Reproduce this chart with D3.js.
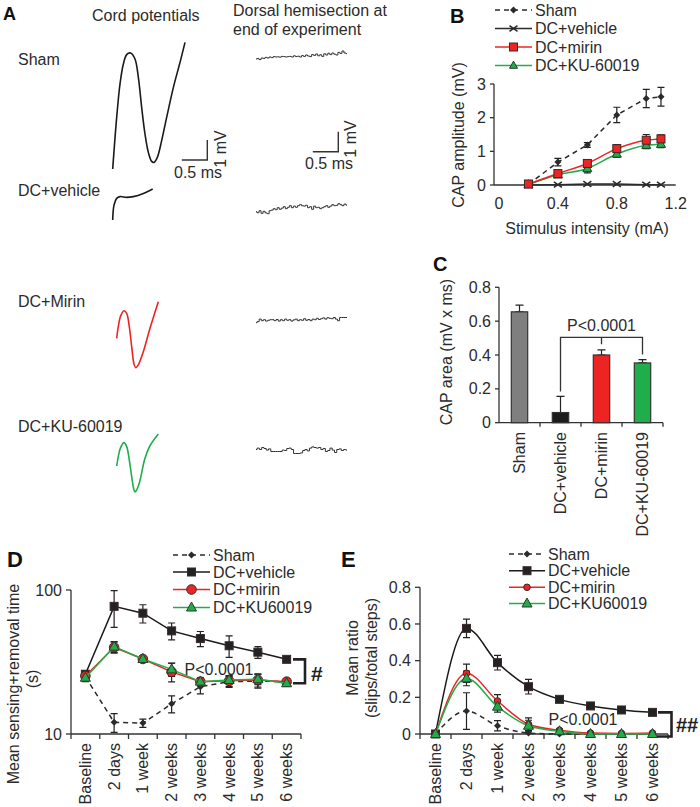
<!DOCTYPE html>
<html><head><meta charset="utf-8">
<script src="https://cdn.jsdelivr.net/npm/d3@7"></script>
<style>
html,body{margin:0;padding:0;background:#fff;}
svg text{font-family:"Liberation Sans",Arial,sans-serif;fill:#2b2b2b;}
</style></head>
<body><svg id="c" width="700" height="807"></svg>
<script>
// ---------------- DATA ----------------
// Panel A traces (time ms, voltage mV)
const shamTraceT = [0,0.078,0.143,0.209,0.274,0.353,0.437,0.503,0.568,0.633,0.699,0.764,0.81,0.875,0.96,1.058,1.19,1.32,1.418];
const shamTraceV = [0,2.58,4.25,5.25,5.72,5.8,5.5,4.58,3.08,1.75,0.83,0.38,0.33,0.58,1.42,2.58,4.08,5.33,6.33];
const vehTraceT = [0,0.026,0.078,0.143,0.274,0.405,0.601,0.784];
const vehTraceV = [0,0.75,1.08,1.17,1.13,1.17,1.33,1.55];
const mirTraceT = [0,0.031,0.078,0.143,0.196,0.247,0.294,0.339,0.373,0.424,0.522,0.653,0.816];
const mirTraceV = [0,0.58,1.12,1.38,1.25,0.58,-0.42,-1.29,-1.47,-1.33,-0.67,0.5,1.83];
const kuTraceT = [0,0.031,0.078,0.143,0.196,0.247,0.294,0.339,0.36,0.4,0.45,0.55,0.65,0.816];
const kuTraceV = [0,0.47,0.93,1.17,0.97,0.3,-0.53,-1.2,-1.3,-1.15,-0.8,0.35,1.0,1.6];
// Panel A dorsal hemisection noise traces (mV)
const shamNoise = [0,0.02,-0.03,0.05,0.03,0.08,0.05,0.1,0.07,0.12,0.1,0.11,0.09,0.13,0.12,0.1,0.12,0.13,0.1,0.16,0.12,0.14,0.1,0.17,0.13,0.2,0.15,0.12,0.22,0.18,0.25,0.16,0.21,0.13,0.26,0.2,0.29,0.22,0.3,0.24,0.2,0.33,0.28,0.4,0.3,0.27];
const vehNoise = [0,-0.05,0.05,-0.08,0.02,-0.06,-0.1,0.05,0.08,0.15,0.1,0.2,0.12,0.18,0.25,0.15,0.22,0.3,0.2,0.28,0.22,0.3,0.35,0.3,0.28,0.32,0.2,0.25,0.12,0.28,0.2,0.22,0.15,0.2,0.25,0.3,0.22,0.28,0.35,0.3,0.32,0.4,0.35,0.3,0.38,0.33];
const mirNoise = [0,0.05,0.18,0.1,0.15,0.08,0.12,0.15,0.15,0.1,0.16,0.08,0.15,0.1,0.18,0.12,0.15,0.08,0.14,0.18,0.1,0.15,0.12,0.2,0.12,0.16,0.1,0.18,0.15,0.22,0.16,0.2,0.24,0.18,0.25,0.22,0.2,0.26,0.18,0.1,0.26,0.26,0.26,0.26];
const kuNoise = [0.05,0.12,0.05,0.15,0.1,0.02,0.08,-0.05,-0.05,-0.05,-0.05,-0.05,0.02,0.0,0.1,0.12,0.05,-0.15,-0.15,-0.15,-0.12,0.0,0.05,-0.02,0.12,0.18,0.15,0.12,0.15,0.05,0.1,-0.05,0.0,0.12,0.02,-0.1,0.05,0.08,0.0,0.05,0.02];

// Panel B
const bIntensity = [0.2,0.4,0.6,0.8,1.0,1.1];
const bSham = [0.02,0.68,1.19,2.08,2.57,2.62];
const bShamErr = [0.02,0.11,0.07,0.23,0.27,0.28];
const bVeh = [0,0.01,0.03,0.03,0.01,0.01];
const bVehErr = [0,0,0,0,0,0];
const bMirin = [0.03,0.34,0.64,1.08,1.33,1.37];
const bMirinErr = [0.02,0.08,0.1,0.12,0.17,0.12];
const bKu = [0.01,0.3,0.49,0.92,1.18,1.21];
const bKuErr = [0.01,0.06,0.13,0.1,0.1,0.1];
const bXTicks = [0,0.4,0.8,1.2];
const bYTicks = [0,1,2,3];

// Panel C
const cGroups = ["Sham","DC+vehicle","DC+mirin","DC+KU-60019"];
const cArea = [0.655,0.06,0.40,0.353];
const cAreaErr = [0.04,0.095,0.03,0.02];
const cYTicks = [0,0.2,0.4,0.6,0.8];

// Panels D and E
const timepoints = ["Baseline","2 days","1 week","2 weeks","3 weeks","4 weeks","5 weeks","6 weeks"];
const dSham = [25,12.05,11.9,16.2,21.3,23.1,23.3,23.1];
const dShamErr = [1,1.8,0.8,2.2,2.3,2,2.5,1];
const dVeh = [26,77,69,52,46,41,37,33];
const dVehErr = [1.5,22,10,7,5.5,7,3.5,1];
const dMirin = [25.3,40,33.2,27,23.1,23.4,23.7,23.1];
const dMirinErr = [1.5,3.5,1,4,1.5,2,2.5,1];
const dKu = [24.6,40.4,33.2,28.1,23.1,23.7,24,22.5];
const dKuErr = [1.5,3.5,1,3,1,1.5,2,1];
const dYTicks = [10,100];

const eSham = [0,0.125,0.045,0.005,0,0,0,0];
const eShamErr = [0,0.1,0.028,0,0,0,0,0];
const eVeh = [0,0.576,0.389,0.258,0.189,0.153,0.131,0.118];
const eVehErr = [0.005,0.05,0.04,0.04,0.012,0.015,0.008,0.015];
const eMirin = [0,0.331,0.18,0.053,0.02,0.005,0.003,0.005];
const eMirinErr = [0,0.05,0.035,0.035,0.008,0.005,0,0];
const eKu = [0,0.303,0.149,0.045,0.015,0,0,0];
const eKuErr = [0,0.04,0.03,0.03,0.005,0,0,0];
const eYTicks = [0,0.2,0.4,0.6,0.8];

// ---------------- STYLE ----------------
const RED = "#ec2424", GREEN = "#1fae4a", DARK = "#2b2b2b", AX = "#333";
const FS = "16px";
const svg = d3.select("#c");

function txt(g, x, y, s, opts={}) {
  const t = g.append("text").attr("x", x).attr("y", y).text(s)
    .style("font-size", opts.size || FS);
  if (opts.anchor) t.attr("text-anchor", opts.anchor);
  if (opts.weight) t.style("font-weight", opts.weight);
  if (opts.fill) t.style("fill", opts.fill);
  return t;
}
function rotTxt(g, x, y, s, anchor, size) {
  return g.append("text").attr("transform", `translate(${x},${y}) rotate(-90)`)
    .attr("text-anchor", anchor).attr("dy", "0.35em").style("font-size", size || FS).text(s);
}
function marker(g, type, x, y, fill, size) {
  const s = size;
  if (type === "diamond") {
    g.append("path").attr("d", `M${x},${y-s}L${x+s},${y}L${x},${y+s}L${x-s},${y}Z`).attr("fill", DARK);
  } else if (type === "x") {
    g.append("path").attr("d", `M${x-s},${y-s*0.7}L${x+s},${y+s*0.7}M${x-s},${y+s*0.7}L${x+s},${y-s*0.7}`)
      .attr("stroke", DARK).attr("stroke-width", 1.6).attr("fill", "none");
  } else if (type === "square") {
    g.append("rect").attr("x", x-s).attr("y", y-s).attr("width", 2*s).attr("height", 2*s)
      .attr("fill", fill).attr("stroke", "#3a2a2a").attr("stroke-width", 1);
  } else if (type === "circle") {
    g.append("circle").attr("cx", x).attr("cy", y).attr("r", s).attr("fill", fill).attr("stroke", "#3a2a2a").attr("stroke-width", 1);
  } else if (type === "triangle") {
    g.append("path").attr("d", `M${x},${y-s*1.1}L${x+s},${y+s*0.7}L${x-s},${y+s*0.7}Z`)
      .attr("fill", fill).attr("stroke", "#2b3a2b").attr("stroke-width", 1);
  }
}
function errBar(g, x, y1, y2, cap) {
  if (Math.abs(y1-y2) < 0.5) return;
  g.append("path").attr("d", `M${x},${y1}V${y2}M${x-cap},${y1}H${x+cap}M${x-cap},${y2}H${x+cap}`)
    .attr("stroke", "#222").attr("stroke-width", 1.2).attr("fill", "none");
}

// ---------------- PANEL A ----------------
(function(){
  const g = svg.append("g");
  txt(g, 3, 20, "A", {weight: "bold", size: "18px", fill: "#111"});
  txt(g, 92, 21, "Cord potentials");
  txt(g, 233, 16, "Dorsal hemisection at");
  txt(g, 233, 34.5, "end of experiment");
  txt(g, 18, 65, "Sham");
  txt(g, 18, 196, "DC+vehicle");
  txt(g, 18, 307, "DC+Mirin");
  txt(g, 18, 432, "DC+KU-60019");

  const tS = d3.scaleLinear().domain([0,1]).range([0,51]);
  const vS = d3.scaleLinear().domain([0,1]).range([0,-20]);
  const line = d3.line().x(d => tS(d[0])).y(d => vS(d[1])).curve(d3.curveCatmullRom.alpha(0.5));
  const traces = [
    [shamTraceT, shamTraceV, 112.7, 169, "#1a1a1a"],
    [vehTraceT, vehTraceV, 112.7, 220, "#1a1a1a"],
    [mirTraceT, mirTraceV, 116.7, 338.3, RED],
    [kuTraceT, kuTraceV, 116.7, 466, GREEN]
  ];
  traces.forEach(([T, V, ox, oy, col]) => {
    g.append("path").attr("transform", `translate(${ox},${oy})`)
      .attr("d", line(T.map((t,i) => [t, V[i]])))
      .attr("fill", "none").attr("stroke", col).attr("stroke-width", 1.6);
  });
  // noise traces
  const noises = [[shamNoise, 256, 59], [vehNoise, 256, 211.7], [mirNoise, 256, 322.7], [kuNoise, 256, 450.5]];
  noises.forEach(([arr, ox, oy]) => {
    const xi = d3.scaleLinear().domain([0, arr.length-1]).range([0, 91]);
    const nl = d3.line().x((d,i) => xi(i)).y(d => vS(d)).curve(d3.curveStep);
    g.append("path").attr("transform", `translate(${ox},${oy})`).attr("d", nl(arr))
      .attr("fill", "none").attr("stroke", "#333").attr("stroke-width", 1);
  });
  // scale bars
  function scaleBar(cx, cy, lx, ly, rx, ry) {
    g.append("path").attr("d", `M${cx - tS(0.5)},${cy}H${cx}V${cy + vS(1)}`)
      .attr("fill", "none").attr("stroke", "#333").attr("stroke-width", 1.4);
    txt(g, lx, ly, "0.5 ms", {anchor: "middle"});
    rotTxt(g, rx, ry, "1 mV", "middle");
  }
  scaleBar(207.3, 160, 198, 177.7, 220, 149);
  scaleBar(338.3, 151.7, 329, 169.3, 350, 139);
})();

// ---------------- PANEL B ----------------
(function(){
  const g = svg.append("g");
  txt(g, 450, 23, "B", {weight: "bold", size: "20px", fill: "#111"});
  const x = d3.scaleLinear().domain([0,1.2]).range([499,675.7]);
  const y = d3.scaleLinear().domain([0,3]).range([185,84]);
  const axX = 494;
  g.append("line").attr("x1", axX).attr("x2", x(1.2)).attr("y1", y(0)).attr("y2", y(0)).attr("stroke", AX).attr("stroke-width", 1.3);
  g.append("line").attr("x1", axX).attr("x2", axX).attr("y1", y(0)).attr("y2", y(3)).attr("stroke", AX).attr("stroke-width", 1.3);
  bYTicks.forEach(v => {
    g.append("line").attr("x1", axX-4).attr("x2", axX).attr("y1", y(v)).attr("y2", y(v)).attr("stroke", AX).attr("stroke-width", 1.3);
    txt(g, axX-8, y(v), String(v), {anchor: "end"}).attr("dy", "0.35em");
  });
  bXTicks.forEach(v => txt(g, x(v), 209, String(v), {anchor: "middle"}));
  txt(g, 587, 234, "Stimulus intensity (mA)", {anchor: "middle"});
  rotTxt(g, 458, 135, "CAP amplitude (mV)", "middle");

  const series = [
    {v: bVeh, e: bVehErr, col: DARK, dash: null, m: "x", fill: DARK, ms: 4, curve: d3.curveLinear},
    {v: bSham, e: bShamErr, col: DARK, dash: "5,4", m: "diamond", fill: DARK, ms: 3.5, curve: d3.curveLinear},
    {v: bKu, e: bKuErr, col: GREEN, dash: null, m: "triangle", fill: GREEN, ms: 4.5, curve: d3.curveMonotoneX},
    {v: bMirin, e: bMirinErr, col: RED, dash: null, m: "square", fill: RED, ms: 4, curve: d3.curveMonotoneX}
  ];
  series.forEach(s => {
    bIntensity.forEach((xi, i) => errBar(g, x(xi), y(s.v[i]+s.e[i]), y(Math.max(0, s.v[i]-s.e[i])), 3.5));
  });
  series.forEach(s => {
    const ln = d3.line().x((d,i) => x(bIntensity[i])).y(d => y(d)).curve(s.curve);
    const p = g.append("path").attr("d", ln(s.v)).attr("fill", "none").attr("stroke", s.col).attr("stroke-width", 1.5);
    if (s.dash) p.attr("stroke-dasharray", s.dash);
    bIntensity.forEach((xi, i) => marker(g, s.m, x(xi), y(s.v[i]), s.fill, s.ms));
  });
  const leg = [
    ["Sham", DARK, "5,4", "diamond", DARK, 3.5],
    ["DC+vehicle", DARK, null, "x", DARK, 4],
    ["DC+mirin", RED, null, "square", RED, 4],
    ["DC+KU-60019", GREEN, null, "triangle", GREEN, 4]
  ];
  const rows = [10, 28.5, 47, 65.5];
  leg.forEach((l, i) => {
    const ly = rows[i];
    const p = g.append("line").attr("x1", 495).attr("x2", 532).attr("y1", ly).attr("y2", ly).attr("stroke", l[1]).attr("stroke-width", 1.5);
    if (l[2]) p.attr("stroke-dasharray", l[2]);
    marker(g, l[3], 513.5, ly, l[4], l[5]);
    txt(g, 535, ly, l[0]).attr("dy", "0.35em");
  });
})();

// ---------------- PANEL C ----------------
(function(){
  const g = svg.append("g");
  txt(g, 433, 271, "C", {weight: "bold", size: "20px", fill: "#111"});
  const x = d3.scaleBand().domain(cGroups).range([499,663]).paddingInner(0.6).paddingOuter(0.3);
  const y = d3.scaleLinear().domain([0,0.8]).range([422.7,287.3]);
  g.append("line").attr("x1", 499).attr("x2", 663).attr("y1", y(0)).attr("y2", y(0)).attr("stroke", AX).attr("stroke-width", 1.3);
  g.append("line").attr("x1", 499).attr("x2", 499).attr("y1", y(0)).attr("y2", y(0.8)).attr("stroke", AX).attr("stroke-width", 1.3);
  cYTicks.forEach(v => {
    g.append("line").attr("x1", 495).attr("x2", 499).attr("y1", y(v)).attr("y2", y(v)).attr("stroke", AX).attr("stroke-width", 1.3);
    txt(g, 491, y(v), String(v), {anchor: "end"}).attr("dy", "0.35em");
  });
  for (let i = 1; i <= cGroups.length; i++) {
    const bx = 499 + i * (164 / cGroups.length);
    g.append("line").attr("x1", bx).attr("x2", bx).attr("y1", y(0)).attr("y2", y(0)+4).attr("stroke", AX).attr("stroke-width", 1.3);
  }
  const fills = ["#7f7f7f", "#1c1c1c", RED, GREEN];
  cGroups.forEach((c, i) => {
    const cx = x(c) + x.bandwidth()/2;
    errBar(g, cx, y(cArea[i] + cAreaErr[i]), y(cArea[i]), 4);
    g.append("rect").attr("x", x(c)).attr("y", y(cArea[i])).attr("width", x.bandwidth()).attr("height", y(0) - y(cArea[i]))
      .attr("fill", fills[i]).attr("stroke", "#333").attr("stroke-width", 1.2);
    rotTxt(g, cx, 432, c, "end");
  });
  rotTxt(g, 446, 352, "CAP area (mV x ms)", "middle");
  const xv = x(cGroups[1]) + x.bandwidth()/2, xm = x(cGroups[2]) + x.bandwidth()/2, xk = x(cGroups[3]) + x.bandwidth()/2;
  const by = 337.3;
  g.append("path").attr("d", `M${xv},${y(cArea[1]+cAreaErr[1])-5}V${by}H${xk}V${y(cArea[3]+cAreaErr[3])-5}M${xm},${by}V${by+7}`)
    .attr("fill", "none").attr("stroke", "#333").attr("stroke-width", 1.3);
  txt(g, xm, 331, "P<0.0001", {anchor: "middle"});
})();

// ---------------- PANELS D & E ----------------
function timePanel(cfg) {
  const g = svg.append("g");
  const x = d3.scaleBand().domain(timepoints).range([cfg.x0, cfg.x1]);
  const y = cfg.y;
  const Y0 = y.range()[0], Y1 = y.range()[1];
  g.append("line").attr("x1", cfg.x0).attr("x2", cfg.x1).attr("y1", Y0).attr("y2", Y0).attr("stroke", AX).attr("stroke-width", 1.3);
  g.append("line").attr("x1", cfg.x0).attr("x2", cfg.x0).attr("y1", Y0).attr("y2", Y1).attr("stroke", AX).attr("stroke-width", 1.3);
  for (let i = 0; i <= timepoints.length; i++) {
    const bx = cfg.x0 + i * x.step();
    g.append("line").attr("x1", bx).attr("x2", bx).attr("y1", Y0).attr("y2", Y0+5).attr("stroke", AX).attr("stroke-width", 1.3);
  }
  cfg.ticks.forEach(v => {
    g.append("line").attr("x1", cfg.x0-5).attr("x2", cfg.x0).attr("y1", y(v)).attr("y2", y(v)).attr("stroke", AX).attr("stroke-width", 1.3);
    txt(g, cfg.x0-9, y(v), String(v), {anchor: "end"}).attr("dy", "0.35em");
  });
  timepoints.forEach(t => rotTxt(g, x(t) + x.bandwidth()/2, 743, t, "end"));
  const cx = t => x(t) + x.bandwidth()/2;
  cfg.series.forEach(s => {
    timepoints.forEach((t, i) => {
      const lo = s.v[i] - s.e[i];
      errBar(g, cx(t), y(s.v[i] + s.e[i]), y(cfg.log ? lo : Math.max(0, lo)), 3.5);
    });
  });
  cfg.series.forEach(s => {
    const ln = d3.line().x((d,i) => cx(timepoints[i])).y(d => y(d)).curve(s.curve || d3.curveLinear);
    const p = g.append("path").attr("d", ln(s.v)).attr("fill", "none").attr("stroke", s.col).attr("stroke-width", 1.5);
    if (s.dash) p.attr("stroke-dasharray", s.dash);
    timepoints.forEach((t, i) => marker(g, s.m, cx(t), y(s.v[i]), s.fill, s.ms));
  });
  cfg.legend.forEach((l, i) => {
    const ly = cfg.legRows[i];
    const p = g.append("line").attr("x1", cfg.legX[0]).attr("x2", cfg.legX[1]).attr("y1", ly).attr("y2", ly).attr("stroke", l.col).attr("stroke-width", 1.5);
    if (l.dash) p.attr("stroke-dasharray", l.dash);
    marker(g, l.m, (cfg.legX[0] + cfg.legX[1]) / 2, ly, l.fill, l.ms);
    txt(g, cfg.legX[1] + 3, ly, l.name).attr("dy", "0.35em");
  });
  return {g, x, y, cx};
}

// Panel D
(function(){
  const y = d3.scaleLog().domain([10,100]).range([734,590]);
  const sham = {v: dSham, e: dShamErr, col: DARK, dash: "5,4", m: "diamond", fill: DARK, ms: 3.5};
  const veh = {v: dVeh, e: dVehErr, col: "#1a1a1a", m: "square", fill: "#222", ms: 4};
  const mir = {v: dMirin, e: dMirinErr, col: RED, m: "circle", fill: RED, ms: 4.8};
  const ku = {v: dKu, e: dKuErr, col: GREEN, m: "triangle", fill: GREEN, ms: 5};
  const p = timePanel({
    x0: 71, x1: 301, y, log: true, ticks: dYTicks,
    series: [sham, veh, mir, ku],
    legend: [
      {name: "Sham", col: DARK, dash: "5,4", m: "diamond", fill: DARK, ms: 3.5},
      {name: "DC+vehicle", col: "#1a1a1a", m: "square", fill: "#222", ms: 4},
      {name: "DC+mirin", col: RED, m: "circle", fill: RED, ms: 4.8},
      {name: "DC+KU60019", col: GREEN, m: "triangle", fill: GREEN, ms: 5}
    ],
    legRows: [555, 572, 589.5, 607.5], legX: [173, 210]
  });
  const g = p.g;
  txt(g, 7, 567, "D", {weight: "bold", size: "22px", fill: "#111"});
  rotTxt(g, 13, 684, "Mean sensing+removal time", "middle");
  rotTxt(g, 32, 679, "(s)", "middle");
  txt(g, 219, 675, "P<0.0001", {anchor: "middle"});
  const yt = y(dVeh[7]), yb = y(dKu[7]);
  g.append("path").attr("d", `M293,${yt}H305V${yb}H293`).attr("fill", "none").attr("stroke", "#222").attr("stroke-width", 2.6);
  txt(g, 311, 681, "#", {weight: "bold", size: "21px", fill: "#222"});
})();

// Panel E
(function(){
  const y = d3.scaleLinear().domain([0,0.8]).range([734,587.3]);
  const sham = {v: eSham, e: eShamErr, col: DARK, dash: "5,4", m: "diamond", fill: DARK, ms: 3.5, curve: d3.curveMonotoneX};
  const veh = {v: eVeh, e: eVehErr, col: "#1a1a1a", m: "square", fill: "#222", ms: 4, curve: d3.curveMonotoneX};
  const mir = {v: eMirin, e: eMirinErr, col: RED, m: "circle", fill: RED, ms: 3.3, curve: d3.curveMonotoneX};
  const ku = {v: eKu, e: eKuErr, col: GREEN, m: "triangle", fill: GREEN, ms: 5, curve: d3.curveMonotoneX};
  const p = timePanel({
    x0: 420, x1: 668, y, log: false, ticks: eYTicks,
    series: [sham, veh, mir, ku],
    legend: [
      {name: "Sham", col: DARK, dash: "5,4", m: "diamond", fill: DARK, ms: 3.5},
      {name: "DC+vehicle", col: "#1a1a1a", m: "square", fill: "#222", ms: 4},
      {name: "DC+mirin", col: RED, m: "circle", fill: RED, ms: 3.3},
      {name: "DC+KU60019", col: GREEN, m: "triangle", fill: GREEN, ms: 5}
    ],
    legRows: [554, 570.7, 587.3, 603.5], legX: [509, 545]
  });
  const g = p.g;
  txt(g, 341, 567, "E", {weight: "bold", size: "22px", fill: "#111"});
  rotTxt(g, 352, 658, "Mean ratio", "middle");
  rotTxt(g, 371, 658, "(slips/total steps)", "middle");
  txt(g, 583, 725, "P<0.0001", {anchor: "middle"});
  const yt = y(eVeh[7]), yb = y(0) + 2.5;
  g.append("path").attr("d", `M658,${yt}H671.5V${yb}H657`).attr("fill", "none").attr("stroke", "#222").attr("stroke-width", 2.6);
  txt(g, 676, 732, "##", {weight: "bold", size: "20px", fill: "#222"});
})();
</script></body></html>
